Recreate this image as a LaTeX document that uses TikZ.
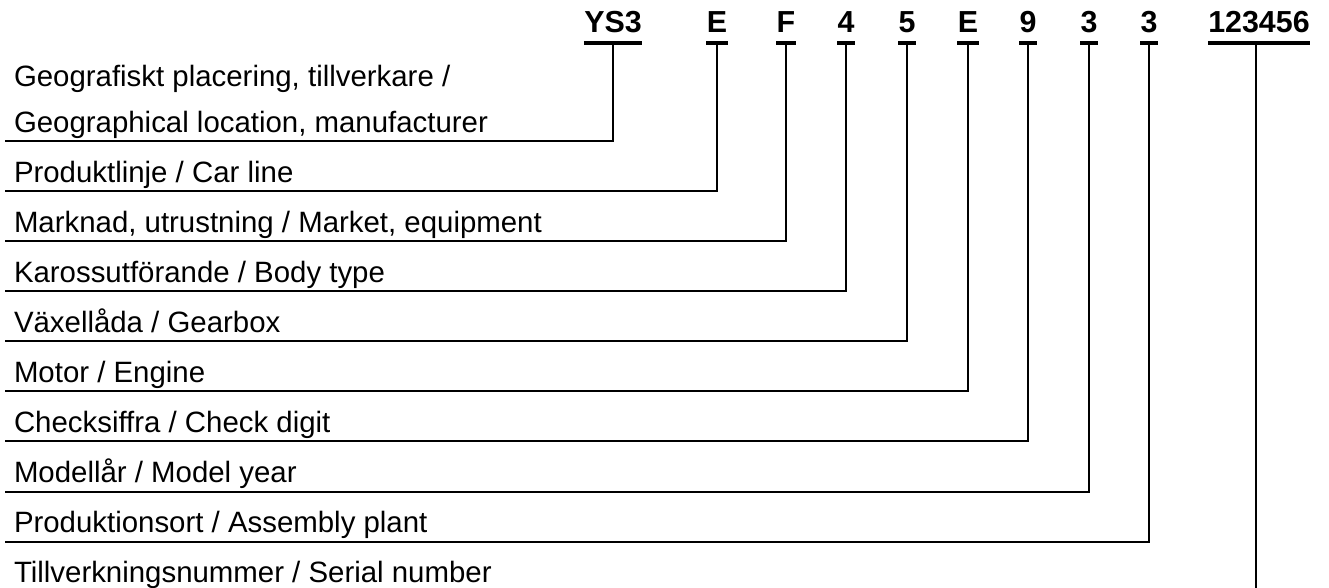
\documentclass[tikz,border=0pt]{standalone}
\usepackage{fontspec}
\setmainfont{Liberation Sans}
\usetikzlibrary{positioning}

\tikzset{
  code/.style={anchor=south,font=\fontsize{15.2}{17}\selectfont\bfseries,
    inner xsep=0pt,inner ysep=5pt,text depth=0pt},
  lab/.style={anchor=south west,font=\fontsize{14.7}{23}\selectfont,
    inner xsep=4.3pt,inner ysep=4.5pt,text depth=0pt,align=left},
  conn/.style={line width=1pt},
  uline/.style={line width=1.6pt}
}

\begin{document}
\begin{tikzpicture}[x=0.5pt,y=-0.5pt]
          \useasboundingbox (0,0) rectangle (1329,588);
          % VIN characters
          \node[code] (ys3) at (613,43) {YS3};
          \node[code] (e1) at (717,43) {E};
          \node[code] (f) at (786,43) {F};
          \node[code] (four) at (846,43) {4};
          \node[code] (five) at (907,43) {5};
          \node[code] (e2) at (968,43) {E};
          \node[code] (nine) at (1028,43) {9};
          \node[code] (threea) at (1089,43) {3};
          \node[code] (threeb) at (1149,43) {3};
          \node[code] (serial) at (1259,43) {123456};
          \foreach \c in {ys3,e1,f,four,five,e2,nine,threea,threeb,serial}
            \draw[uline] (\c.south west) -- (\c.south east);
          % explanations
          \node[lab] (geo) at (5,141.5) {Geografiskt placering, tillverkare /\\Geographical location, manufacturer};
          \node[lab] (car) at (5,191.5) {Produktlinje / Car line};
          \node[lab] (market) at (5,241.5) {Marknad, utrustning / Market, equipment};
          \node[lab] (body) at (5,291.5) {Karossutförande / Body type};
          \node[lab] (gearbox) at (5,341.5) {Växellåda / Gearbox};
          \node[lab] (engine) at (5,391.5) {Motor / Engine};
          \node[lab] (check) at (5,441.5) {Checksiffra / Check digit};
          \node[lab] (year) at (5,491.5) {Modellår / Model year};
          \node[lab] (plant) at (5,541.5) {Produktionsort / Assembly plant};
          \node[lab] (serialno) at (5,592) {Tillverkningsnummer / Serial number};
          \coordinate (bottom) at (1256,588);
          % connectors
          \foreach \c/\l in {ys3/geo,e1/car,f/market,four/body,five/gearbox,
                             e2/engine,nine/check,threea/year,threeb/plant}
            \draw[conn] (\c.south) |- (\l.south west);
          \draw[conn] (bottom |- serial.south) -- (bottom);
        \end{tikzpicture}
\end{document}
